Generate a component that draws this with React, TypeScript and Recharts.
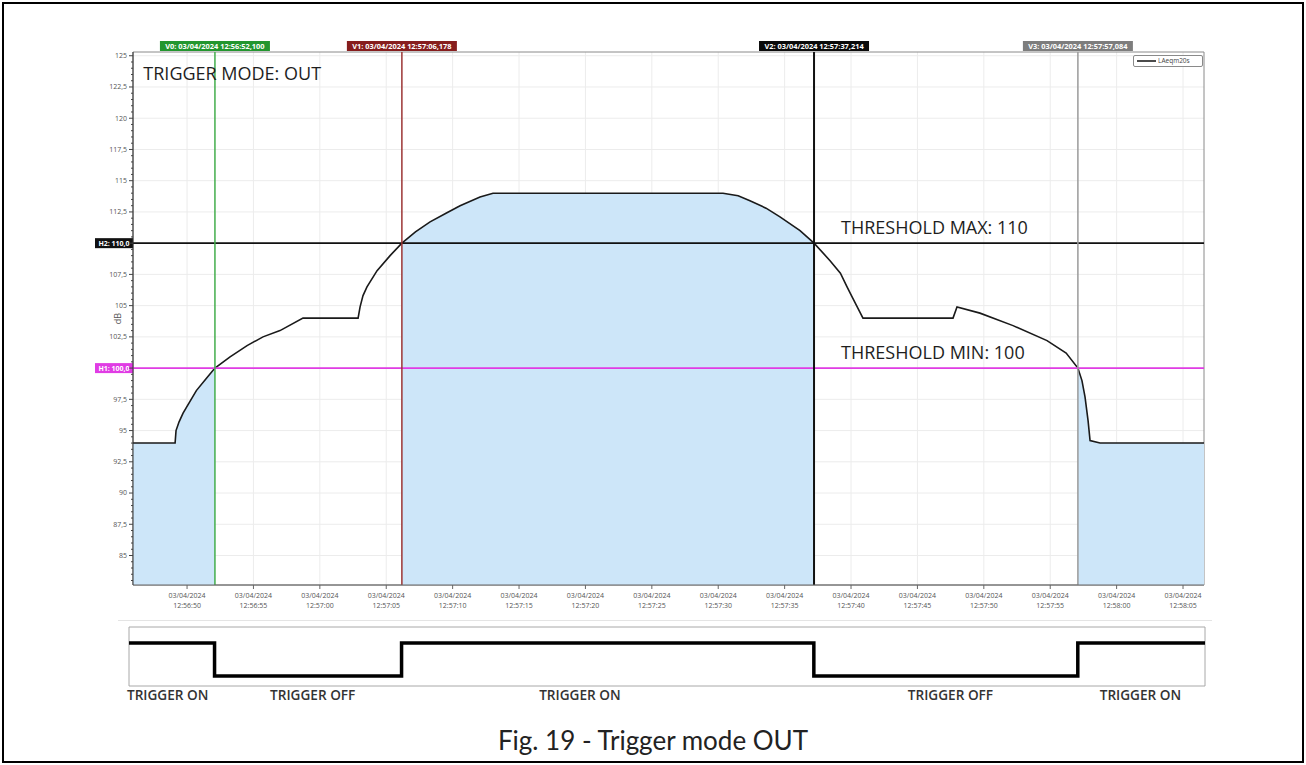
import React from "react"
import {
  ComposedChart,
  LineChart,
  Line,
  Area,
  XAxis,
  YAxis,
  CartesianGrid,
  ReferenceLine,
  ReferenceArea,
  ReferenceDot,
  Legend,
} from "recharts"

// time in seconds after 03/04/2024 12:56:50
const seconds = [
  -4.07, -0.9, -0.83, -0.6, -0.3, 0.2, 0.7, 1.4, 2.1, 3.24, 4.52, 5.72, 7.0, 8.73,
  12.88, 13.03, 13.25, 13.55, 14.31, 15.29, 16.178, 17.2, 18.3, 19.5, 20.56, 22.06,
  23.04, 40.36, 41.5, 42.39, 43.6, 44.65, 46.16, 47.214, 48.42, 49.2, 49.7, 50.08,
  50.9, 57.68, 57.98, 59.71, 62.2, 64.76, 66.2, 67.084, 67.39, 67.62, 67.85, 68.0,
  68.75, 76.58,
]
// LAeqm20s, dB
const laeq = [
  94, 94, 95.0, 95.7, 96.4, 97.3, 98.2, 99.1, 100, 100.9, 101.8, 102.5, 103.0, 104.0,
  104.0, 104.9, 105.8, 106.5, 107.8, 109.0, 110, 110.9, 111.7, 112.4, 113.0, 113.7,
  114, 114, 113.8, 113.4, 112.8, 112.1, 111.0, 110, 108.6, 107.6, 106.5, 105.7,
  104.0, 104.0, 104.9, 104.4, 103.4, 102.2, 101.2, 100, 99.0, 97.7, 95.8, 94.2,
  94.0, 94.0,
]

const cursorNames = ["V0", "V1", "V2", "V3"]
const cursorTimes = [2.1, 16.178, 47.214, 67.084]
const cursorStamps = [
  "03/04/2024 12:56:52,100",
  "03/04/2024 12:57:06,178",
  "03/04/2024 12:57:37,214",
  "03/04/2024 12:57:57,084",
]
const cursorBoxColors = ["#23962f", "#861d1d", "#0a0a0a", "#7d7d7d"]
const cursorLineColors = ["#43ad4c", "#9b3535", "#111111", "#9a9a9a"]

const thresholdNames = ["H2", "H1"]
const thresholdValues = [110, 100]
const thresholdColors = ["#111111", "#e03ce4"]

const xTicks = [0, 5, 10, 15, 20, 25, 30, 35, 40, 45, 50, 55, 60, 65, 70, 75]
const xTickLabels = [
  "12:56:50", "12:56:55", "12:57:00", "12:57:05", "12:57:10", "12:57:15", "12:57:20", "12:57:25",
  "12:57:30", "12:57:35", "12:57:40", "12:57:45", "12:57:50", "12:57:55", "12:58:00", "12:58:05",
]
const yMajor = [85, 87.5, 90, 92.5, 95, 97.5, 100, 102.5, 105, 107.5, 110, 112.5, 115, 117.5, 120, 122.5, 125]

const notes = [
  { t: -3.29, db: 123.05, text: "TRIGGER MODE: OUT", size: 18 },
  { t: 49.25, db: 110.72, text: "THRESHOLD MAX: 110", size: 18 },
  { t: 49.25, db: 100.72, text: "THRESHOLD MIN: 100", size: 18 },
]

// trigger output, 1 = on
const triggerTimes = [-4.34, 2.1, 16.178, 47.214, 67.084, 76.66]
const triggerStates = [1, 0, 1, 0, 1, 1]
const triggerLabelTimes = [-1.43, 9.49, 29.6, 57.5, 71.8]
const triggerLabels = ["TRIGGER ON", "TRIGGER OFF", "TRIGGER ON", "TRIGGER OFF", "TRIGGER ON"]

const xDomain = [-4.07, 76.58]
const yDomain = [82.64, 125.3]
const minorTicks = Array.from({ length: 85 }, (_, i) => 83 + i * 0.5)

const isOn = (t: number) =>
  t <= cursorTimes[0] || (t >= cursorTimes[1] && t <= cursorTimes[2]) || t >= cursorTimes[3]

const data = seconds.map((t, i) => ({ t, db: laeq[i], fill: isOn(t) ? laeq[i] : null }))
const triggerData = triggerTimes.map((t, i) => ({ t, on: triggerStates[i] }))

const font = "'Open Sans', sans-serif"
const comma = (v: number) => String(v).replace(".", ",")

const XTick = ({ x, y, payload }: any) => {
  const i = xTicks.indexOf(payload.value)
  return (
    <text x={x} y={y} textAnchor="middle" fill="#555" fontSize={7} fontFamily={font}>
      <tspan x={x} dy="0.85em">03/04/2024</tspan>
      <tspan x={x} dy="1.4em">{xTickLabels[i]}</tspan>
    </text>
  )
}

const YTick = ({ x, y, payload }: any) => {
  const v = payload.value
  const major = yMajor.includes(v)
  const labelled = major && !thresholdValues.includes(v)
  return (
    <g>
      <line x1={x - (major ? 4 : 2)} x2={x} y1={y} y2={y} stroke="#444" />
      {labelled && (
        <text x={x - 6} y={y} dy="0.35em" textAnchor="end" fill="#555" fontSize={7} fontFamily={font}>
          {comma(v)}
        </text>
      )}
    </g>
  )
}

const cursorLabel = (i: number) => (props: any) => {
  const { x, y } = props.viewBox
  return (
    <g>
      <rect x={x - 55} y={y - 11} width={110} height={10} fill={cursorBoxColors[i]} />
      <text x={x} y={y - 6} dy="0.35em" textAnchor="middle" fill="#fff" fontSize={7.4} fontWeight={700} fontFamily={font}>
        {`${cursorNames[i]}: ${cursorStamps[i]}`}
      </text>
    </g>
  )
}

const thresholdLabel = (i: number) => (props: any) => {
  const { x, y } = props.viewBox
  return (
    <g>
      <rect x={x - 38} y={y - 5} width={38} height={10} fill={thresholdColors[i]} />
      <text x={x - 19} y={y} dy="0.35em" textAnchor="middle" fill="#fff" fontSize={7} fontWeight={700} fontFamily={font}>
        {`${thresholdNames[i]}: ${thresholdValues[i]},0`}
      </text>
    </g>
  )
}

const noteLabel = (i: number) => (props: any) => {
  const { x, y } = props.viewBox
  return (
    <text x={x} y={y} fill="#1e1e1e" fontSize={notes[i].size} fontFamily={font}>
      {notes[i].text}
    </text>
  )
}

const LegendBox = () => (
  <div
    style={{
      display: "flex",
      alignItems: "center",
      width: 68,
      height: 10,
      border: "1px solid #8a8a8a",
      borderRadius: 2,
      background: "#fff",
      fontFamily: font,
      fontSize: 6.5,
      color: "#444",
      lineHeight: "10px",
    }}
  >
    <svg width={24} height={10}>
      <line x1={3} x2={22} y1={5} y2={5} stroke="#111" strokeWidth={1.5} />
    </svg>
    <span>LAeqm20s</span>
  </div>
)

export default function App() {
  return (
    <div style={{ position: "absolute", left: 0, top: 0, width: 1306, height: 765, background: "#fff" }}>
      <ComposedChart
        width={1306}
        height={620}
        data={data}
        margin={{ top: 52, right: 102, left: 93, bottom: 0 }}
        style={{ position: "absolute", left: 0, top: 0, fontFamily: font }}
      >
        <CartesianGrid stroke="#ececec" horizontalValues={yMajor} verticalValues={xTicks} />
        <XAxis
          type="number"
          dataKey="t"
          domain={xDomain}
          allowDataOverflow
          ticks={xTicks}
          interval={0}
          height={35}
          tick={<XTick />}
          tickSize={4}
          tickMargin={3}
          stroke="#666"
        />
        <YAxis
          type="number"
          domain={yDomain}
          allowDataOverflow
          ticks={minorTicks}
          interval={0}
          width={40}
          tick={<YTick />}
          tickLine={false}
          tickSize={0}
          tickMargin={0}
          stroke="#333"
          label={{
            value: "dB",
            angle: -90,
            position: "insideLeft",
            offset: 25,
            fill: "#555",
            fontSize: 9,
            style: { textAnchor: "middle" },
          }}
        />
        <ReferenceArea x1={xDomain[0]} x2={xDomain[1]} y1={yDomain[0]} y2={yDomain[1]} fill="none" stroke="#8a8a8a" />
        <Area
          type="linear"
          dataKey="fill"
          fill="#cde6f9"
          fillOpacity={1}
          stroke="none"
          connectNulls={false}
          isAnimationActive={false}
        />
        <Line type="linear" dataKey="db" stroke="#1a1a1a" strokeWidth={1.6} dot={false} isAnimationActive={false} />
        {thresholdValues.map((v, i) => (
          <ReferenceLine key={thresholdNames[i]} y={v} stroke={thresholdColors[i]} strokeWidth={1.6} label={thresholdLabel(i)} />
        ))}
        {cursorTimes.map((t, i) => (
          <ReferenceLine
            key={cursorNames[i]}
            x={t}
            stroke={cursorLineColors[i]}
            strokeWidth={i === 2 ? 2 : 1.5}
            label={cursorLabel(i)}
          />
        ))}
        {notes.map((n, i) => (
          <ReferenceDot key={n.text} x={n.t} y={n.db} r={0} fill="none" stroke="none" ifOverflow="visible" label={noteLabel(i)} />
        ))}
        <Legend
          layout="horizontal"
          verticalAlign="middle"
          align="center"
          wrapperStyle={{ left: 1133, top: 55, width: 70, height: 12 }}
          content={() => <LegendBox />}
        />
      </ComposedChart>

      <div style={{ position: "absolute", left: 118, top: 620, width: 1094, height: 1, background: "#e4e4e4" }} />

      <LineChart
        width={1306}
        height={100}
        data={triggerData}
        margin={{ top: 7, right: 101, left: 129, bottom: 0 }}
        style={{ position: "absolute", left: 0, top: 620, fontFamily: font }}
      >
        <XAxis
          type="number"
          dataKey="t"
          domain={[triggerTimes[0], triggerTimes[triggerTimes.length - 1]]}
          allowDataOverflow
          ticks={triggerLabelTimes}
          interval={0}
          height={34}
          axisLine={false}
          tickLine={false}
          tickSize={0}
          tickMargin={4}
          tick={{ fill: "#333", fontSize: 13.6, fontWeight: 600, fontFamily: font }}
          tickFormatter={(v: number) => triggerLabels[triggerLabelTimes.indexOf(v)]}
        />
        <YAxis hide type="number" domain={[-0.3, 1.48]} allowDataOverflow />
        <ReferenceArea
          x1={triggerTimes[0]}
          x2={triggerTimes[triggerTimes.length - 1]}
          y1={-0.3}
          y2={1.48}
          fill="none"
          stroke="#a8a8a8"
        />
        <Line type="stepAfter" dataKey="on" stroke="#000" strokeWidth={3.5} dot={false} isAnimationActive={false} />
      </LineChart>

      <div
        style={{
          position: "absolute",
          left: 0,
          top: 724,
          width: 1306,
          textAlign: "center",
          fontFamily: "Lato, sans-serif",
          fontSize: 26,
          color: "#222",
          lineHeight: "32px",
        }}
      >
        Fig. 19 - Trigger mode OUT
      </div>

      <div
        style={{
          position: "absolute",
          left: 2,
          top: 2,
          width: 1302,
          height: 761,
          border: "2px solid #000",
          boxSizing: "border-box",
          pointerEvents: "none",
        }}
      />
    </div>
  )
}
